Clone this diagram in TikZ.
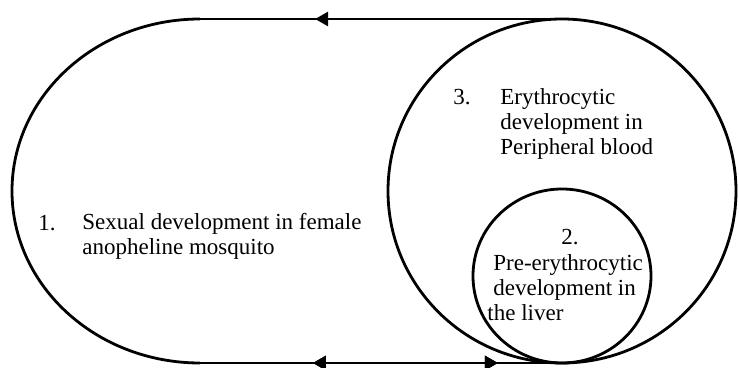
\documentclass[tikz,border=0pt]{standalone}
\usepackage{fontspec}
\setmainfont{Liberation Serif}
\usetikzlibrary{arrows.meta,decorations.markings}

\tikzset{
  cycle line/.style={line width=1.4pt},
  stage text/.style={font=\fontsize{11.5}{12.5}\selectfont, align=left, inner sep=0pt, anchor=base west},
  fwd arrow/.style={postaction={decorate}, decoration={markings,
      mark=at position #1 with {\arrow{Triangle[length=6.5pt,width=7pt]}}}},
  rev arrow/.style={postaction={decorate}, decoration={markings,
      mark=at position #1 with {\arrowreversed{Triangle[length=6.5pt,width=7pt]}}}}
}

\begin{document}
\begin{tikzpicture}[x=0.5pt,y=-0.5pt]
    \useasboundingbox (0,0) rectangle (739,368);

 % Corners of the mosquito cycle
    \coordinate (tl) at (200,19);
    \coordinate (tr) at (562,19);
    \coordinate (bl) at (200,363);
    \coordinate (br) at (562,363);

 % Draw the cycle in the mosquito
    \draw[cycle line] (tl) arc[start angle=270, end angle=90, x radius=188, y radius=172]; % left end
    \draw[cycle line, fwd arrow=0.682] (tr) -- (tl); % top, back to the mosquito
    \draw[cycle line, fwd arrow=0.823, rev arrow=0.312] (bl) -- (br); % bottom, both ways

 % Draw the circles in man
    \draw[cycle line] (562,191) ellipse[x radius=174, y radius=172]; % peripheral blood
    \draw[cycle line] (562,276) ellipse[x radius=89, y radius=87]; % liver

 % Labels (base anchor sits on the last line)
    \node[stage text] (sexual num) at (38,231) {1.};
    \node[stage text] (sexual) at (82,255) {Sexual development in female\\anopheline mosquito};
    \node[stage text] (blood num) at (453,105) {3.};
    \node[stage text] (blood) at (500,155) {Erythrocytic\\development in\\Peripheral blood};
    \node[stage text, anchor=base] (liver num) at (570,245) {2.};
    \node[stage text] (liver) at (493,321) {Pre-erythrocytic\\development in\\\hspace*{-3pt}the liver};

\end{tikzpicture}
\end{document}
